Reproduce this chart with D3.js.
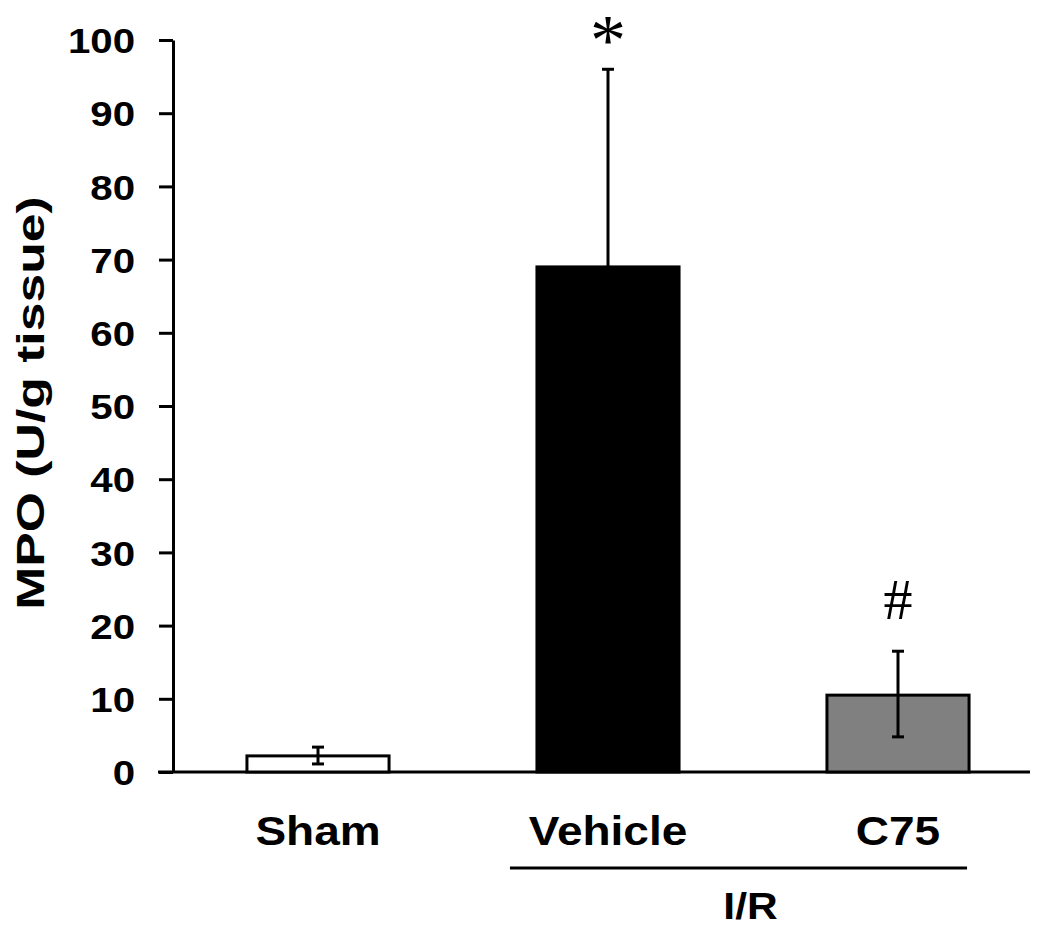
<!DOCTYPE html>
<html>
<head>
<meta charset="utf-8">
<script src="https://cdn.jsdelivr.net/npm/d3@7"></script>
<style>
  html, body { margin: 0; padding: 0; background: #fff; }
  svg { display: block; }
</style>
</head>
<body>
<div id="chart"></div>
<script>
// ---- data ----
const categories = ["Sham", "Vehicle", "C75"];
const means = [2.2, 69.0, 10.5];
const errLow = [1.1, null, 4.8];
const errHigh = [3.4, 96.0, 16.5];
const fills = ["#ffffff", "#000000", "#808080"];
const markers = ["", "*", "#"];
const yTicks = [0, 10, 20, 30, 40, 50, 60, 70, 80, 90, 100];
const yLabel = "MPO (U/g tissue)";
const groupLabel = "I/R";
const groupMembers = ["Vehicle", "C75"];

// ---- layout ----
const W = 1050, H = 930;
const svg = d3.select("#chart").append("svg").attr("width", W).attr("height", H);

const y = d3.scaleLinear().domain([0, 100]).range([772, 40]);
const x = d3.scaleBand().domain(categories).range([173, 1043])
  .paddingInner(0.51).paddingOuter(0.255);

const font = "'Liberation Sans', Arial, sans-serif";
const sx = 1.15; // horizontal stretch of the reference text

// y axis
const yAxis = d3.axisLeft(y).tickValues(yTicks).tickSize(14).tickPadding(0).tickSizeOuter(0);
const gy = svg.append("g").attr("transform", "translate(173,0)").call(yAxis);
gy.select(".domain").attr("stroke", "#000").attr("stroke-width", 3);
gy.selectAll(".tick line").attr("stroke", "#000").attr("stroke-width", 3);
gy.selectAll(".tick text")
  .attr("x", -38 / sx)
  .attr("dy", "0.36em")
  .attr("transform", `scale(${sx},1)`)
  .attr("fill", "#000")
  .style("font-family", font)
  .style("font-weight", "bold")
  .style("font-size", "35px");

// x axis line
svg.append("line")
  .attr("x1", 158).attr("x2", 1030)
  .attr("y1", y(0)).attr("y2", y(0))
  .attr("stroke", "#000").attr("stroke-width", 3);

// bars
svg.selectAll("rect.bar").data(categories).enter().append("rect")
  .attr("class", "bar")
  .attr("x", d => x(d))
  .attr("width", x.bandwidth())
  .attr("y", (d, i) => y(means[i]))
  .attr("height", (d, i) => y(0) - y(means[i]))
  .attr("fill", (d, i) => fills[i])
  .attr("stroke", "#000").attr("stroke-width", 3);

// error bars
const capW = 12;
categories.forEach((c, i) => {
  const cx = x(c) + x.bandwidth() / 2;
  const lo = errLow[i] == null ? means[i] : errLow[i];
  const g = svg.append("g").attr("stroke", "#000").attr("stroke-width", 3);
  g.append("line").attr("x1", cx).attr("x2", cx).attr("y1", y(lo)).attr("y2", y(errHigh[i]));
  g.append("line").attr("x1", cx - capW / 2).attr("x2", cx + capW / 2).attr("y1", y(errHigh[i])).attr("y2", y(errHigh[i]));
  if (errLow[i] != null) {
    g.append("line").attr("x1", cx - capW / 2).attr("x2", cx + capW / 2).attr("y1", y(lo)).attr("y2", y(lo));
  }
});

// significance markers
categories.forEach((c, i) => {
  if (!markers[i]) return;
  const cx = x(c) + x.bandwidth() / 2;
  const isStar = markers[i] === "*";
  svg.append("text")
    .attr("x", cx)
    .attr("y", isStar ? y(errHigh[i]) - 5 : y(errHigh[i]) - 32)
    .attr("text-anchor", "middle")
    .style("font-family", "'Liberation Serif', 'Times New Roman', serif")
    .style("font-size", isStar ? "72px" : "58px")
    .attr("fill", "#000")
    .text(markers[i]);
});

// category labels
categories.forEach((c, i) => {
  const cx = x(c) + x.bandwidth() / 2;
  svg.append("text")
    .attr("transform", `translate(${cx},845) scale(${sx},1)`)
    .attr("text-anchor", "middle")
    .style("font-family", font)
    .style("font-weight", "bold")
    .style("font-size", "40px")
    .attr("fill", "#000")
    .text(c);
});

// group bracket
const gx1 = x(groupMembers[0]) - 27;
const gx2 = x(groupMembers[groupMembers.length - 1]) + x.bandwidth() - 2;
svg.append("line")
  .attr("x1", gx1).attr("x2", gx2).attr("y1", 868).attr("y2", 868)
  .attr("stroke", "#000").attr("stroke-width", 3);
svg.append("text")
  .attr("transform", `translate(${(gx1 + gx2) / 2 + 12},919) scale(${sx},1)`)
  .attr("text-anchor", "middle")
  .style("font-family", font)
  .style("font-weight", "600")
  .style("font-size", "37px")
  .attr("fill", "#000")
  .text(groupLabel);

// y label (stretched along its length like the reference)
svg.append("text")
  .attr("transform", "translate(44,403) rotate(-90) scale(1.36,1)")
  .attr("text-anchor", "middle")
  .style("font-family", font)
  .style("font-weight", "bold")
  .style("font-size", "38px")
  .attr("fill", "#000")
  .text(yLabel);
</script>
</body>
</html>
